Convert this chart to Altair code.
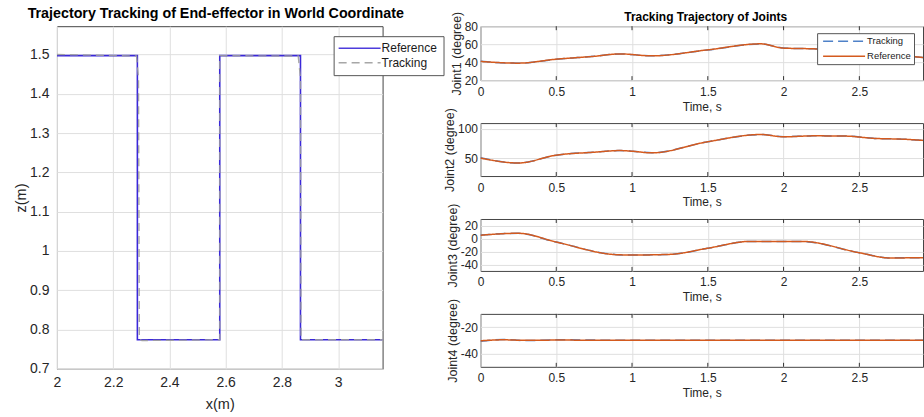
import altair as alt
import pandas as pd

FONT = "Liberation Sans"
TXT = "#262626"
GRID = "#DFDFDF"

# ---------------- left panel: end-effector path ----------------
ref_x = [2.0, 2.286, 2.286, 2.579, 2.579, 2.866, 2.866, 3.158]
ref_z = [1.497, 1.497, 0.774, 0.774, 1.497, 1.497, 0.774, 0.774]
trk_x = [2.0, 2.283, 2.290, 2.293, 2.302, 2.579, 2.579, 2.858, 2.866, 2.868, 3.158]
trk_z = [1.500, 1.496, 1.440, 0.776, 0.772, 0.774, 1.497, 1.496, 1.440, 0.774, 0.774]
x_ticks = [2.0, 2.2, 2.4, 2.6, 2.8, 3.0]
z_ticks = [0.7, 0.8, 0.9, 1.0, 1.1, 1.2, 1.3, 1.4, 1.5]
left_series = ["Reference", "Tracking"]

# ---------------- right panels: joints ----------------
t_ticks = [0.0, 0.5, 1.0, 1.5, 2.0, 2.5]
inner_ticks = [0.5, 1.0, 1.5, 2.0, 2.5]
joint_series = ["Tracking", "Reference"]

j1_t = [0.0, 0.25, 0.5, 0.75, 0.92, 1.13, 1.5, 1.85, 2.0, 2.2, 2.4, 2.6, 2.8, 2.92]
j1_ref = [40.8, 38.9, 43.3, 46.5, 49.2, 47.0, 53.7, 60.4, 55.6, 54.8, 53.0, 50.0, 47.0, 45.2]
j1_trk = [40.9, 38.8, 43.2, 46.5, 49.1, 47.1, 53.6, 60.3, 55.7, 54.8, 53.0, 50.0, 47.0, 45.2]

j2_t = [0.0, 0.25, 0.5, 0.75, 0.92, 1.0, 1.13, 1.5, 1.85, 2.0, 2.2, 2.4, 2.6, 2.8, 2.92]
j2_ref = [50.5, 42.2, 55.5, 60.5, 63.3, 62.2, 59.4, 78.3, 90.6, 86.7, 88.3, 88.0, 84.0, 82.5, 80.6]
j2_trk = [51.0, 42.0, 55.4, 60.5, 63.2, 62.3, 59.5, 78.2, 90.5, 86.8, 88.3, 88.0, 84.0, 82.5, 80.6]

j3_t = [0.0, 0.25, 0.5, 0.9, 1.0, 1.25, 1.5, 1.78, 2.0, 2.12, 2.5, 2.7, 2.92]
j3_ref = [5.0, 8.0, -5.5, -25.0, -25.5, -24.5, -15.0, -4.5, -4.5, -4.5, -22.0, -30.0, -29.6]
j3_trk = [5.2, 7.9, -5.6, -24.9, -25.5, -24.6, -15.0, -4.6, -4.5, -4.6, -22.0, -29.9, -29.6]

j4_t = [0.0, 0.15, 0.3, 0.5, 1.0, 1.5, 2.0, 2.5, 2.92]
j4_ref = [-30.3, -29.6, -30.0, -29.8, -30.0, -30.0, -30.0, -30.0, -30.0]
j4_trk = [-30.6, -29.4, -30.2, -29.6, -30.0, -30.0, -30.0, -30.0, -30.0]

LEFT_COLORS = ["#3B28D9", "#9E9E9E"]
LEFT_DASH = [[1, 0], [8, 5]]
JOINT_COLORS = ["#4F81C8", "#D45A1E"]
JOINT_DASH = [[10, 5], [1, 0]]


def left_chart():
    df_ref = pd.DataFrame({"i": range(len(ref_x)), "x": ref_x, "z": ref_z, "series": "Reference"})
    df_trk = pd.DataFrame({"i": range(len(trk_x)), "x": trk_x, "z": trk_z, "series": "Tracking"})
    leg = alt.Legend(
        title=None, orient="none", legendX=277, legendY=10,
        symbolType="M-1.4,0H7", symbolSize=100, symbolStrokeWidth=1.5,
        labelFont=FONT, labelFontSize=12, labelColor="#1A1A1A", labelOffset=30,
        padding=6, rowPadding=2.5, strokeColor="#555555", fillColor="white",
    )
    x = alt.X("x:Q", scale=alt.Scale(domain=[2.0, 3.158], nice=False, zero=False),
              axis=alt.Axis(values=x_ticks, title="x(m)", labelExpr="toString(datum.value)",
                            grid=True, gridColor=GRID, domain=False, ticks=False,
                            labelPadding=7, titlePadding=8, labelFontSize=14, titleFontSize=14.5,
                            labelFont=FONT, titleFont=FONT, labelColor=TXT, titleColor=TXT,
                            titleFontWeight="normal", labelFlush=False, labelOverlap=False))
    y = alt.Y("z:Q", scale=alt.Scale(domain=[0.7, 1.572], nice=False, zero=False),
              axis=alt.Axis(values=z_ticks, title="z(m)", labelExpr="toString(datum.value)",
                            grid=True, gridColor=GRID, domain=False, ticks=False,
                            labelPadding=8, titlePadding=1, labelFontSize=14, titleFontSize=14.5,
                            labelFont=FONT, titleFont=FONT, labelColor=TXT, titleColor=TXT,
                            titleFontWeight="normal", labelFlush=False, labelOverlap=False))
    color = alt.Color("series:N", scale=alt.Scale(domain=left_series, range=LEFT_COLORS), legend=leg)
    dash = alt.StrokeDash("series:N", scale=alt.Scale(domain=left_series, range=LEFT_DASH), legend=leg)
    ref = alt.Chart(df_ref).mark_line(strokeWidth=1.6, clip=True).encode(
        x=x, y=y, color=color, strokeDash=dash, order="i:Q")
    trk = alt.Chart(df_trk).mark_line(strokeWidth=1.4, clip=True, opacity=0.9).encode(
        x=x, y=y, color=color, strokeDash=dash, order="i:Q")
    return alt.layer(ref, trk).properties(
        width=326, height=343,
        title=alt.TitleParams(text="Trajectory Tracking of End-effector in World Coordinate",
                              font=FONT, fontSize=14.3, fontWeight="bold", color="#000000",
                              anchor="middle", frame="group", offset=5, dx=-4),
    )


def joint_panel(t, v_ref, v_trk, ylabel, domain, yticks, height, legend=False, title=None):
    df_ref = pd.DataFrame({"t": t, "v": v_ref, "jseries": "Reference"})
    df_trk = pd.DataFrame({"t": t, "v": v_trk, "jseries": "Tracking"})
    df_tk = pd.DataFrame({"t": inner_ticks})
    if legend:
        leg = alt.Legend(
            title=None, orient="none", legendX=337, legendY=7,
            symbolType="M-0.5,0H10", symbolSize=64, symbolStrokeWidth=1.5,
            labelFont=FONT, labelFontSize=9.5, labelColor="#1A1A1A", labelOffset=37,
            padding=3, rowPadding=5, strokeColor="#555555", fillColor="white",
        )
    else:
        leg = None
    x = alt.X("t:Q", scale=alt.Scale(domain=[0.0, 2.92], nice=False, zero=False),
              axis=alt.Axis(values=t_ticks, title="Time, s", labelExpr="toString(datum.value)",
                            grid=True, gridColor=GRID, domain=False, ticks=False,
                            labelPadding=6, titlePadding=4, labelFontSize=12, titleFontSize=12,
                            labelFont=FONT, titleFont=FONT, labelColor=TXT, titleColor=TXT,
                            titleFontWeight="normal", labelFlush=False, labelOverlap=False))
    y = alt.Y("v:Q", scale=alt.Scale(domain=domain, nice=False, zero=False),
              axis=alt.Axis(values=yticks, title=ylabel, labelExpr="toString(datum.value)",
                            grid=True, gridColor=GRID, domain=False, ticks=False,
                            labelPadding=3, titlePadding=0.5, labelFontSize=12, titleFontSize=12.5,
                            labelFont=FONT, titleFont=FONT, labelColor=TXT, titleColor=TXT,
                            titleFontWeight="normal", labelFlush=False, labelOverlap=False))
    color = alt.Color("jseries:N", scale=alt.Scale(domain=joint_series, range=JOINT_COLORS), legend=leg)
    dash = alt.StrokeDash("jseries:N", scale=alt.Scale(domain=joint_series, range=JOINT_DASH), legend=leg)
    trk = alt.Chart(df_trk).mark_line(strokeWidth=1.5, interpolate="monotone", clip=True).encode(
        x=x, y=y, color=color, strokeDash=dash)
    ref = alt.Chart(df_ref).mark_line(strokeWidth=1.5, interpolate="monotone", clip=True).encode(
        x=x, y=y, color=color, strokeDash=dash)
    tick_top = alt.Chart(df_tk).mark_rule(color="#333333", strokeWidth=1).encode(
        x=alt.X("t:Q"), y=alt.value(0), y2=alt.value(4))
    tick_bot = alt.Chart(df_tk).mark_rule(color="#333333", strokeWidth=1).encode(
        x=alt.X("t:Q"), y=alt.value(height - 4), y2=alt.value(height))
    props = dict(width=443, height=height)
    if title:
        props["title"] = alt.TitleParams(text=title, font=FONT, fontSize=12, fontWeight="bold",
                                         color="#000000", anchor="middle", frame="group",
                                         offset=-13, dx=4)
    return alt.layer(trk, ref, tick_top, tick_bot).properties(**props)


p1 = joint_panel(j1_t, j1_ref, j1_trk, "Joint1 (degree)", [20, 80], [20, 40, 60, 80], 54,
                 legend=True, title="Tracking Trajectory of Joints")
p2 = joint_panel(j2_t, j2_ref, j2_trk, "Joint2 (degree)", [20, 110], [50, 100], 53)
p3 = joint_panel(j3_t, j3_ref, j3_trk, "Joint3 (degree)", [-50, 30], [-40, -20, 0, 20], 52)
p4 = joint_panel(j4_t, j4_ref, j4_trk, "Joint4 (degree)", [-50, -10], [-40, -20], 53)

right = alt.vconcat(p1, p2, p3, p4, spacing=43, bounds="flush").resolve_scale(
    x="independent", y="independent", color="independent", strokeDash="independent")

chart = alt.hconcat(left_chart(), right, spacing=98, bounds="flush").resolve_scale(
    color="independent", strokeDash="independent"
).properties(
    padding={"left": 13, "top": 6, "right": 0, "bottom": 0},
    background="white",
).configure_view(stroke="#444444", strokeWidth=1)

chart.save("out.html", embed_options={"renderer": "svg", "actions": False})
